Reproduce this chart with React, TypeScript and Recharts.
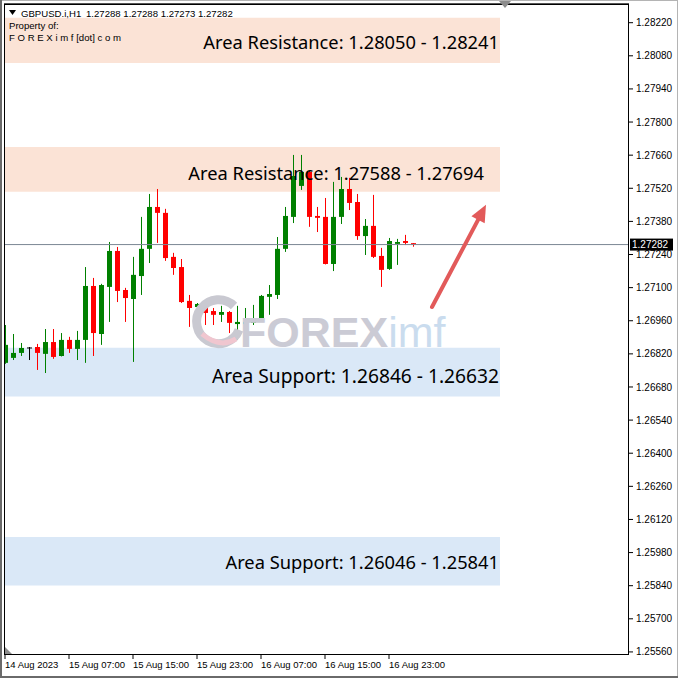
import React from 'react';
import {
  ComposedChart,
  Bar,
  XAxis,
  YAxis,
  ReferenceArea,
  ReferenceLine,
  ReferenceDot,
} from 'recharts';

// ---------- DATA ----------
const barTimes = [
  '14 Aug 23:00',
  '15 Aug 00:00', '15 Aug 01:00', '15 Aug 02:00', '15 Aug 03:00', '15 Aug 04:00', '15 Aug 05:00',
  '15 Aug 06:00', '15 Aug 07:00', '15 Aug 08:00', '15 Aug 09:00', '15 Aug 10:00', '15 Aug 11:00',
  '15 Aug 12:00', '15 Aug 13:00', '15 Aug 14:00', '15 Aug 15:00', '15 Aug 16:00', '15 Aug 17:00',
  '15 Aug 18:00', '15 Aug 19:00', '15 Aug 20:00', '15 Aug 21:00', '15 Aug 22:00', '15 Aug 23:00',
  '16 Aug 00:00', '16 Aug 01:00', '16 Aug 02:00', '16 Aug 03:00', '16 Aug 04:00', '16 Aug 05:00',
  '16 Aug 06:00', '16 Aug 07:00', '16 Aug 08:00', '16 Aug 09:00', '16 Aug 10:00', '16 Aug 11:00',
  '16 Aug 12:00', '16 Aug 13:00', '16 Aug 14:00', '16 Aug 15:00', '16 Aug 16:00', '16 Aug 17:00',
  '16 Aug 18:00', '16 Aug 19:00', '16 Aug 20:00', '16 Aug 21:00', '16 Aug 22:00', '16 Aug 23:00',
  '17 Aug 00:00', '17 Aug 01:00', '17 Aug 02:00',
];

const opens = [
  1.26782, 1.26803, 1.26824, 1.26847, 1.26849, 1.2682, 1.2687, 1.26811, 1.26879, 1.26841,
  1.26879, 1.27107, 1.26904, 1.27103, 1.27255, 1.2709, 1.27052, 1.27149, 1.27264, 1.27441,
  1.27416, 1.2723, 1.27187, 1.27044, 1.27018, 1.27027, 1.27001, 1.26985, 1.26997, 1.26946,
  1.26946, 1.26951, 1.26959, 1.27061, 1.27069, 1.27264, 1.27399, 1.2753, 1.27589, 1.27403,
  1.27399, 1.272, 1.27399, 1.27517, 1.27462, 1.27318, 1.27361, 1.27234, 1.27179, 1.27285,
  1.27297, 1.27288,
];
const highs = [
  1.26942, 1.26904, 1.26866, 1.26849, 1.26862, 1.26925, 1.26925, 1.26908, 1.26892, 1.26917,
  1.27187, 1.27141, 1.27116, 1.27293, 1.27272, 1.27099, 1.2723, 1.27399, 1.27496, 1.27517,
  1.27433, 1.27247, 1.27221, 1.27069, 1.27035, 1.27031, 1.27014, 1.27023, 1.27001, 1.27023,
  1.27014, 1.27027, 1.27069, 1.27111, 1.27314, 1.27441, 1.27661, 1.27661, 1.27593, 1.27441,
  1.27479, 1.27547, 1.27568, 1.27564, 1.27496, 1.2739, 1.27492, 1.27268, 1.2731, 1.27306,
  1.27323, 1.27288,
];
const lows = [
  1.26778, 1.26794, 1.26811, 1.26794, 1.26752, 1.26739, 1.26799, 1.26809, 1.26824, 1.26794,
  1.26782, 1.26811, 1.26858, 1.26955, 1.27039, 1.26955, 1.26786, 1.27069, 1.27204, 1.27289,
  1.27213, 1.27154, 1.27035, 1.26934, 1.26963, 1.26942, 1.26942, 1.26955, 1.26908, 1.26879,
  1.26908, 1.26942, 1.26955, 1.26985, 1.27052, 1.27251, 1.27373, 1.27513, 1.27357, 1.27335,
  1.27198, 1.2717, 1.27369, 1.27428, 1.27302, 1.27238, 1.27225, 1.27103, 1.27175, 1.27196,
  1.2728, 1.27273,
];
const closes = [
  1.26858, 1.26824, 1.26845, 1.26847, 1.26824, 1.2687, 1.26807, 1.26879, 1.26841, 1.26879,
  1.27107, 1.26908, 1.27111, 1.27255, 1.27086, 1.27056, 1.27154, 1.27264, 1.27441, 1.27416,
  1.27225, 1.27183, 1.27039, 1.27014, 1.27031, 1.26993, 1.26985, 1.26997, 1.26951, 1.26955,
  1.26955, 1.26963, 1.27065, 1.27073, 1.27264, 1.27403, 1.27572, 1.27589, 1.27399, 1.27395,
  1.272, 1.27399, 1.27517, 1.27458, 1.27318, 1.27361, 1.2723, 1.27175, 1.27297, 1.27293,
  1.27289, 1.27282,
];

const xTickIdx = [0, 8, 16, 24, 32, 40, 48];
const xTickLabels = [
  '14 Aug 2023', '15 Aug 07:00', '15 Aug 15:00', '15 Aug 23:00',
  '16 Aug 07:00', '16 Aug 15:00', '16 Aug 23:00',
];

const yTicks = [
  1.2822, 1.2808, 1.2794, 1.278, 1.2766, 1.2752, 1.2738, 1.2724, 1.271, 1.2696,
  1.2682, 1.2668, 1.2654, 1.264, 1.2626, 1.2612, 1.2598, 1.2584, 1.257, 1.2556,
];

const zoneLabels = [
  'Area Resistance: 1.28050 - 1.28241',
  'Area Resistance: 1.27588 - 1.27694',
  'Area Support: 1.26846 - 1.26632',
  'Area Support: 1.26046 - 1.25841',
];
const zoneTop = [1.28241, 1.27694, 1.26846, 1.26046];
const zoneBottom = [1.2805, 1.27505, 1.2664, 1.25841];
const zoneKind = ['resistance', 'resistance', 'support', 'support'];

const symbolText = 'GBPUSD.i,H1';
const ohlcText = '1.27288 1.27288 1.27273 1.27282';
const lastPrice = 1.27282;

// arrow annotation (data coordinates: bar index, price)
const arrowFrom = { x: 53.375, y: 1.27018 };
const arrowTo = { x: 60.125, y: 1.2745 };

// ---------- STYLE ----------
const X_DOMAIN: [number, number] = [-0.125, 78];
const Y_DOMAIN: [number, number] = [1.25547, 1.28299];
const ZONE_END = 61.875;
const zoneFill: Record<string, string> = { resistance: '#fbe3d6', support: '#dae8f7' };
const zoneLabelInset = [1, 16, 1, 1];
const zoneLabelSize = [18.3, 18.3, 19.2, 18.3];
const zoneLabelDy = [1, 3, 3, 0];
const UP = '#008000';
const DOWN = '#ff0000';
const FONT = '"Liberation Sans", Arial, sans-serif';
const LABEL_FONT = '"Noto Sans", "Open Sans", sans-serif';

const data = opens.map((o, i) => ({
  idx: i,
  time: barTimes[i],
  open: o,
  high: highs[i],
  low: lows[i],
  close: closes[i],
  range: [lows[i], highs[i]],
}));

const Candle = (props: any) => {
  const { x, y, width, height, payload } = props;
  if (!payload || x == null) return null;
  const { open, close, high, low } = payload;
  const top = Math.min(y, y + height);
  const h = Math.abs(height);
  const ppu = high - low > 0 ? h / (high - low) : 0;
  const yOf = (v: number) => top + (high - v) * ppu;
  const color = close > open ? UP : close < open ? DOWN : '#000000';
  const c = Math.round(x + width / 2);
  const yo = yOf(open);
  const yc = yOf(close);
  const bTop = Math.min(yo, yc);
  const bH = Math.max(1, Math.abs(yo - yc));
  return (
    <g>
      <line x1={c + 0.5} x2={c + 0.5} y1={top} y2={top + h} stroke={color} strokeWidth={1} />
      <rect x={c - 2} y={bTop} width={5} height={bH} fill={color} />
    </g>
  );
};

const XTick = (props: any) => {
  const { x, y, payload } = props;
  const i = xTickIdx.indexOf(payload.value);
  return (
    <text x={x} y={y} dy="0.71em" textAnchor="start" fontSize={9.5} fill="#000" fontFamily={FONT}>
      {i >= 0 ? xTickLabels[i] : ''}
    </text>
  );
};

const YTick = (props: any) => {
  const { x, y, payload } = props;
  return (
    <text x={x} y={y} dy="0.355em" textAnchor="start" fontSize={10} fill="#000" fontFamily={FONT}>
      {Number(payload.value).toFixed(5)}
    </text>
  );
};

const makeZoneLabel = (i: number) => (props: any) => {
  const { cx, cy } = props;
  if (cx == null) return null;
  return (
    <text
      x={cx - zoneLabelInset[i]}
      y={cy + zoneLabelDy[i]}
      textAnchor="end"
      dominantBaseline="central"
      fontSize={zoneLabelSize[i]}
      fill="#000"
      fontFamily={LABEL_FONT}
    >
      {zoneLabels[i]}
    </text>
  );
};

const PriceBox = (props: any) => {
  const { cx, cy } = props;
  if (cx == null) return null;
  return (
    <g>
      <rect x={cx + 1} y={cy - 6} width={43} height={12} fill="#000" />
      <text x={cx + 3} y={cy} dy="0.355em" fontSize={10} fill="#fff" fontFamily={FONT}>
        {lastPrice.toFixed(5)}
      </text>
    </g>
  );
};

const Watermark = (props: any) => {
  const { cx, cy } = props;
  if (cx == null) return null;
  return (
    <g>
      <path
        d={`M ${cx + 14} ${cy - 16} A 22 22 0 1 0 ${cx + 19} ${cy + 8}`}
        fill="none"
        stroke="#c9c9d1"
        strokeWidth={9}
      />
      <path
        d={`M ${cx - 18} ${cy + 12} Q ${cx} ${cy + 27} ${cx + 16} ${cy + 17}`}
        fill="none"
        stroke="#f0c6cf"
        strokeWidth={5}
      />
      <text x={cx + 20} y={cy + 25} fontSize={43} fontWeight="bold" fill="#cbcbd5" fontFamily={FONT}>
        FOREX
        <tspan fill="#cadcee" fontWeight="normal">imf</tspan>
      </text>
    </g>
  );
};

const Arrow = (props: any) => {
  const { x1, y1, x2, y2 } = props;
  if (x1 == null) return null;
  const dx = x2 - x1;
  const dy = y2 - y1;
  const len = Math.sqrt(dx * dx + dy * dy);
  const ux = dx / len;
  const uy = dy / len;
  const headLen = 17;
  const headW = 7.5;
  const bx = x2 - ux * headLen;
  const by = y2 - uy * headLen;
  const color = '#e25a5a';
  return (
    <g>
      <line x1={x1} y1={y1} x2={bx + ux * 2} y2={by + uy * 2} stroke={color} strokeWidth={4} strokeLinecap="round" />
      <polygon
        points={`${x2},${y2} ${bx - uy * headW},${by + ux * headW} ${bx + uy * headW},${by - ux * headW}`}
        fill={color}
      />
    </g>
  );
};

export default function App() {
  return (
    <div
      style={{
        position: 'absolute',
        left: 0,
        top: 0,
        width: 678,
        height: 678,
        background: '#fff',
        overflow: 'hidden',
      }}
    >
      <ComposedChart
        width={678}
        height={678}
        data={data}
        margin={{ top: 4, right: 0, bottom: 0, left: 4 }}
      >
        <XAxis
          dataKey="idx"
          type="number"
          domain={X_DOMAIN}
          ticks={xTickIdx}
          interval={0}
          allowDataOverflow
          axisLine={false}
          tickLine={{ stroke: '#000' }}
          tickSize={4}
          tickMargin={2}
          height={23}
          tick={<XTick />}
        />
        <YAxis
          orientation="right"
          type="number"
          domain={Y_DOMAIN}
          ticks={yTicks}
          interval={0}
          allowDataOverflow
          axisLine={false}
          tickLine={{ stroke: '#000' }}
          tickSize={4}
          tickMargin={3}
          width={49}
          tick={<YTick />}
        />
        {zoneLabels.map((_, i) => (
          <ReferenceArea
            key={'z' + i}
            x1={X_DOMAIN[0]}
            x2={ZONE_END}
            y1={zoneBottom[i]}
            y2={zoneTop[i]}
            fill={zoneFill[zoneKind[i]]}
            fillOpacity={1}
            stroke="none"
            ifOverflow="visible"
          />
        ))}
        <ReferenceDot x={26.875} y={1.26955} r={0} shape={<Watermark />} ifOverflow="visible" />
        <ReferenceLine y={lastPrice} stroke="#7b8794" strokeWidth={1} />
        <Bar dataKey="range" barSize={5} shape={<Candle />} isAnimationActive={false} />
        {zoneLabels.map((_, i) => (
          <ReferenceDot
            key={'zl' + i}
            x={ZONE_END}
            y={(zoneTop[i] + zoneBottom[i]) / 2}
            r={0}
            shape={makeZoneLabel(i)}
            ifOverflow="visible"
          />
        ))}
        <ReferenceDot x={X_DOMAIN[1]} y={lastPrice} r={0} shape={<PriceBox />} ifOverflow="visible" />
        <ReferenceLine segment={[arrowFrom, arrowTo]} shape={<Arrow />} ifOverflow="visible" />
      </ComposedChart>
      <svg
        width={678}
        height={678}
        style={{ position: 'absolute', left: 0, top: 0, pointerEvents: 'none' }}
      >
        {/* plot frame */}
        <rect x={4.5} y={4.5} width={624} height={650} fill="none" stroke="#000" strokeWidth={1} />
        <line x1={4} x2={629} y1={3.5} y2={3.5} stroke="#555" strokeWidth={1} />
        {/* window border */}
        <rect x={0.5} y={0.5} width={677} height={677} fill="none" stroke="#b4b4b4" strokeWidth={1} />
        <line x1={1} x2={1} y1={0} y2={678} stroke="#6a6a6a" strokeWidth={2} />
        <line x1={0} x2={678} y1={677} y2={677} stroke="#6a6a6a" strokeWidth={2} />
        {/* shift markers */}
        <polygon points="499,1 511,1 505,8" fill="#8c8c8c" />
        <polygon points="5,647 5,654 12,654" fill="#8c8c8c" />
        {/* header */}
        <polygon points="9,10 16,10 12.5,15" fill="#000" />
        <text x={21} y={16.5} fontSize={9.6} fontFamily={FONT} fill="#000">
          {symbolText}
        </text>
        <text x={86} y={16.5} fontSize={9.6} fontFamily={FONT} fill="#000">
          {ohlcText}
        </text>
        <text x={9} y={29} fontSize={9.6} fontFamily={FONT} fill="#000">
          Property of:
        </text>
        <text x={9} y={41} fontSize={9.6} fontFamily={FONT} fill="#000">
          F O R E X i m f [dot] c o m
        </text>
      </svg>
    </div>
  );
}
